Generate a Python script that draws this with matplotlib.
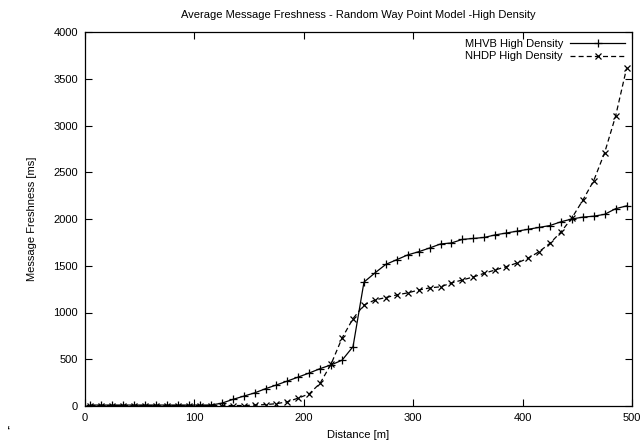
import numpy as np
import matplotlib.pyplot as plt

# Average message freshness vs distance, random way point model (high density)

distance = list(range(5, 500, 10))

mhvb = [10] * 12 + [
    30, 70, 105, 140, 185, 225, 267, 310, 353, 400,
    440, 490, 635, 1325, 1423, 1515, 1565, 1616, 1650, 1690,
    1733, 1744, 1782, 1792, 1803, 1830, 1850, 1870, 1890, 1910,
    1930, 1970, 2000, 2020, 2030, 2050, 2110, 2140,
]

nhdp = [5] * 15 + [
    10, 15, 25, 45, 85, 130, 245, 450, 727, 935,
    1080, 1134, 1160, 1188, 1210, 1240, 1263, 1275, 1316, 1348,
    1380, 1420, 1455, 1490, 1530, 1580, 1650, 1740, 1860, 2010,
    2200, 2410, 2710, 3100, 3610,
]

x_ticks = [0, 100, 200, 300, 400, 500]
y_ticks = [0, 500, 1000, 1500, 2000, 2500, 3000, 3500, 4000]

plt.rcParams['font.family'] = ['Liberation Sans', 'DejaVu Sans']

fig = plt.figure(figsize=(6.42, 4.45), dpi=100)
ax = fig.add_axes([85 / 642, 1 - 406 / 445, (632 - 85) / 642, (406 - 32) / 445])

ax.plot(distance, mhvb, color='black', lw=0.9, marker='+', ms=6, mew=0.9,
        label='MHVB High Density')
ax.plot(distance, nhdp, color='black', lw=0.9, ls=(0, (4, 2.5)), marker='x', ms=4.5,
        mew=0.9, label='NHDP High Density')

ax.set_xlim(0, 500)
ax.set_ylim(0, 4000)
ax.set_xticks(x_ticks)
ax.set_yticks(y_ticks)
ax.tick_params(direction='in', length=5, width=0.8, top=True, right=True,
               labelsize=8, pad=5)
for s in ax.spines.values():
    s.set_linewidth(0.9)

ax.set_title('Average Message Freshness - Random Way Point Model -High Density',
             fontsize=8, pad=10)
ax.set_xlabel('Distance [m]', fontsize=8, labelpad=5)
ax.set_ylabel('Message Freshness [ms]', fontsize=8, labelpad=12)

ax.legend(loc='upper right', frameon=False, markerfirst=False, fontsize=8,
          handlelength=5, handletextpad=0.6, labelspacing=0.25,
          borderaxespad=0.3, borderpad=0.3)

fig.text(7 / 642, 1 - 436 / 445, '\u2018', fontsize=11)

fig.savefig('out.png', dpi=100)
